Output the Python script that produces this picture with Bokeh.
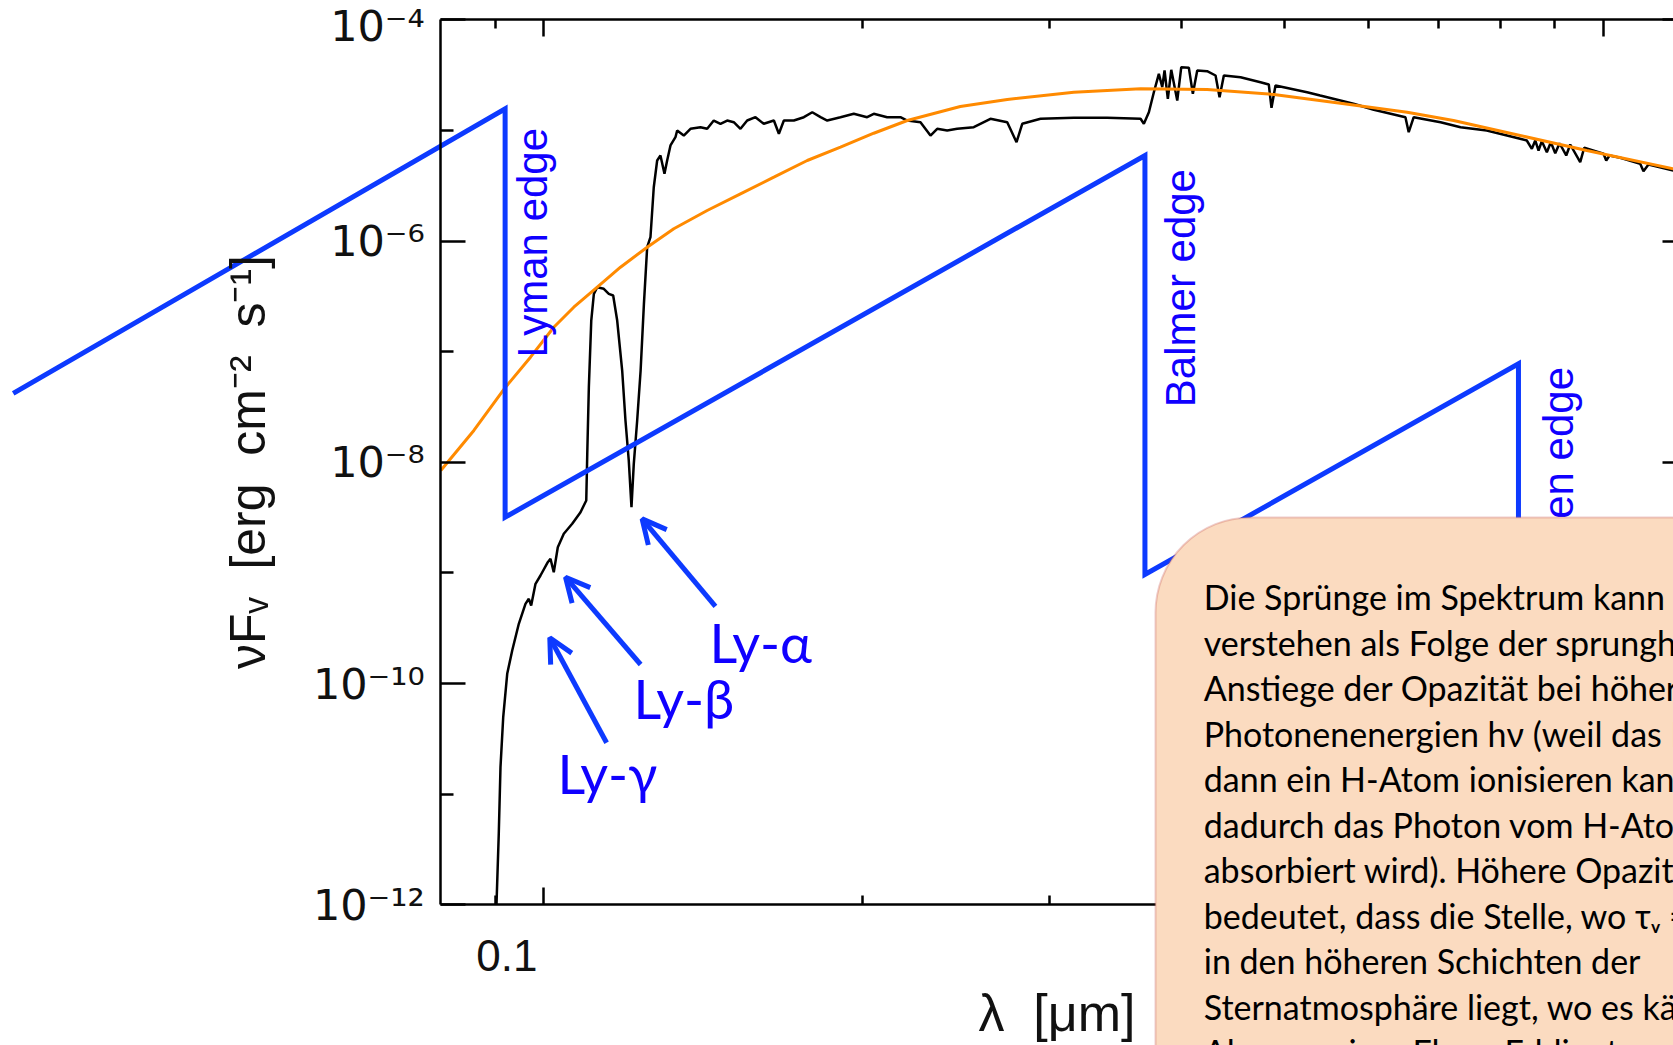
from bokeh.plotting import figure
from bokeh.models import (Range1d, FixedTicker, LogAxis, Label, Arrow, OpenHead,
                          BoxAnnotation)
from bokeh.embed import file_html
from bokeh.resources import INLINE

# ---------------- data ----------------
# model stellar spectrum (wavelength in micron, nu F_nu)
spec_wl = [
    0.09029, 0.09074, 0.09108, 0.09162, 0.09242, 0.09343, 0.09478, 0.09616, 0.09686,
    0.09736, 0.09828, 0.09935, 0.10094, 0.10153, 0.10226, 0.10316, 0.10451, 0.10644, 0.10838,
    0.10974, 0.10998, 0.11036, 0.11094, 0.11157, 0.11239, 0.11400, 0.11525, 0.11635, 0.11737,
    0.11865, 0.11950, 0.12036, 0.12107, 0.12168, 0.12258, 0.12350, 0.12439, 0.12527, 0.12617,
    0.12708, 0.12802, 0.12894, 0.13007, 0.13083, 0.13178, 0.13321,
    0.13371, 0.13564, 0.13763, 0.14065, 0.14272, 0.14478, 0.14690, 0.14906, 0.15121, 0.15343,
    0.15568, 0.15851, 0.16139, 0.16498, 0.16678, 0.16860, 0.17230, 0.17608, 0.17933, 0.18259,
    0.18527, 0.19067, 0.19626, 0.20205, 0.20497, 0.21103, 0.21721, 0.22046, 0.22687, 0.23185,
    0.23526, 0.24042, 0.24570, 0.25472, 0.26413, 0.27394, 0.27953, 0.28302, 0.29450, 0.31660,
    0.34040, 0.36600, 0.36864,
    0.37267, 0.37673, 0.38084, 0.38367, 0.38559, 0.38836, 0.39124, 0.39638, 0.39984, 0.40649,
    0.41005, 0.41398, 0.42295, 0.43078, 0.43454, 0.43862, 0.45481, 0.47497, 0.48361, 0.48647,
    0.49072, 0.52557, 0.54077, 0.56500, 0.58131, 0.60756, 0.65078, 0.65547, 0.66262, 0.70244,
    0.73362, 0.77658, 0.83499,
    0.84720, 0.85656, 0.86291, 0.86911, 0.87537, 0.88493, 0.89267, 0.90124, 0.90971, 0.92301,
    0.93104, 0.95148, 0.95976, 1.0009, 1.0068, 1.0140, 1.0379, 1.0840, 1.0917, 1.1036, 1.1653,
]
spec_flux = [
    1.0e-12, 4.39e-12, 1.756e-11, 4.97e-11, 1.227e-10, 1.991e-10, 3.47e-10, 5.26e-10, 5.84e-10,
    5.08e-10, 7.98e-10, 9.48e-10, 1.251e-9, 1.342e-9, 1.016e-9, 1.709e-9, 2.259e-9, 2.78e-9, 3.54e-9,
    4.52e-9, 1.193e-8, 4.77e-8, 1.912e-7, 3.33e-7, 3.82e-7, 3.70e-7, 3.33e-7, 3.22e-7, 1.912e-7,
    6.75e-8, 2.386e-8, 1.038e-8, 3.93e-9, 9.69e-9, 2.386e-8, 6.75e-8, 2.706e-7, 8.79e-7, 1.082e-6,
    3.06e-6, 5.34e-6, 5.93e-6, 4.05e-6, 5.34e-6, 7.30e-6, 8.67e-6,
    9.97e-6, 8.98e-6, 1.033e-5, 1.068e-5, 1.033e-5, 1.227e-5, 1.146e-5, 1.227e-5, 1.185e-5, 1.033e-5,
    1.227e-5, 1.315e-5, 1.146e-5, 1.227e-5, 9.31e-6, 1.227e-5, 1.227e-5, 1.315e-5, 1.459e-5, 1.315e-5,
    1.227e-5, 1.315e-5, 1.411e-5, 1.315e-5, 1.411e-5, 1.315e-5, 1.315e-5, 1.227e-5, 1.185e-5, 8.98e-6,
    1.033e-5, 9.97e-6, 1.033e-5, 1.068e-5, 1.272e-5, 1.185e-5, 7.81e-6, 1.146e-5, 1.272e-5, 1.298e-5,
    1.298e-5, 1.272e-5, 1.146e-5,
    1.459e-5, 2.212e-5, 3.244e-5, 2.455e-5, 3.475e-5, 1.928e-5, 3.526e-5, 1.862e-5, 3.72e-5, 3.675e-5,
    2.139e-5, 3.475e-5, 3.424e-5, 3.131e-5, 1.993e-5, 3.131e-5, 3.022e-5, 2.723e-5, 2.597e-5, 1.599e-5,
    2.543e-5, 2.212e-5, 2.065e-5, 1.862e-5, 1.737e-5, 1.533e-5, 1.315e-5, 9.62e-6, 1.315e-5, 1.185e-5,
    1.068e-5, 9.97e-6, 8.39e-6,
    8.10e-6, 6.81e-6, 8.10e-6, 6.57e-6, 7.98e-6, 6.35e-6, 7.81e-6, 6.22e-6, 7.65e-6, 5.93e-6,
    7.45e-6, 5.16e-6, 6.96e-6, 6.14e-6, 5.34e-6, 5.93e-6, 5.65e-6, 4.98e-6, 4.27e-6, 4.91e-6, 4.34e-6,
]

# black-body comparison curve
bb_wl = [0.08, 0.08596, 0.09208, 0.09721, 0.10226, 0.10680, 0.11239, 0.11821, 0.12527, 0.13273,
         0.14272, 0.15343, 0.16498, 0.17738, 0.19067, 0.20497, 0.22046, 0.24738, 0.27394, 0.31660,
         0.36600, 0.42295, 0.48894, 0.56500, 0.65320, 0.72249, 0.83499, 0.96520, 1.1653]
bb_flux = [8.43e-9, 1.939e-8, 4.77e-8, 8.91e-8, 1.663e-7, 2.522e-7, 3.823e-7, 5.80e-7, 8.79e-7, 1.289e-6,
           1.886e-6, 2.670e-6, 3.772e-6, 5.34e-6, 7.04e-6, 9.42e-6, 1.227e-5, 1.642e-5, 1.900e-5, 2.212e-5,
           2.374e-5, 2.340e-5, 2.109e-5, 1.759e-5, 1.459e-5, 1.227e-5, 8.99e-6, 6.57e-6, 4.49e-6]

# schematic absorption-edge sawtooth
edge_wl = [0.03159, 0.0920, 0.0920, 0.3695, 0.3695, 0.832, 0.832]
edge_flux = [4.19e-8, 1.566e-5, 3.19e-9, 5.93e-6, 9.68e-10, 7.77e-8, 1.0e-11]
edge_names = ["Lyman edge", "Balmer edge", "Paschen edge"]
edge_label_wl = [0.09764, 0.39923, 0.90756]
edge_label_flux = [8.85e-8, 3.15e-8, 2.72e-10]

# Lyman line annotations
ly_names = ["Ly-α", "Ly-β", "Ly-γ"]
ly_text_wl = [0.14344, 0.12161, 0.10309]
ly_text_flux = [2.373e-10, 7.351e-11, 1.544e-11]
arrow_tail_wl = [0.1453, 0.1235, 0.1147]
arrow_tail_flux = [4.98e-10, 1.488e-10, 2.92e-11]
arrow_head_wl = [0.1239, 0.1049, 0.10138]
arrow_head_flux = [3.08e-9, 9.15e-10, 2.596e-10]

# axes: plotted box and ticks
x_bounds = (0.08, 1.2)
y_bounds = (1e-12, 1e-4)
x_major = [0.1, 1.0]
x_minor = [0.09, 0.2, 0.3, 0.4, 0.5, 0.6, 0.7, 0.8, 0.9]
NB = "\u00a0"
x_labels = {0.1: "0.1" + NB * 6, 1.0: "1"}
y_major = [1e-12, 1e-10, 1e-8, 1e-6, 1e-4]
y_minor = [1e-11, 1e-9, 1e-7, 1e-5]
y_labels = {1e-12: "10⁻¹²", 1e-10: "10⁻¹⁰", 1e-8: "10⁻⁸", 1e-6: "10⁻⁶", 1e-4: "10⁻⁴"}

# text box
box_left_wl = 0.3781
box_top_flux = 3.17e-9
box_text_wl = 0.41985
box_text_flux = 6.07e-10
box_lines = [
    "Die Sprünge im Spektrum kann man",
    "verstehen als Folge der sprunghaften",
    "Anstiege der Opazität bei höheren",
    "Photonenenergien hν (weil das Photon",
    "dann ein H-Atom ionisieren kann und",
    "dadurch das Photon vom H-Atom",
    "absorbiert wird). Höhere Opazität",
    "bedeutet, dass die Stelle, wo τᵥ = 2/3",
    "in den höheren Schichten der",
    "Sternatmosphäre liegt, wo es kälter ist.",
    "Also: weniger Fluss. Eddington",
]

# ---------------- figure ----------------
BLUE_LINE = "#0D3AFF"
BLUE_TEXT = "#1000FF"
AX_FONT = "Liberation Sans"

p = figure(width=1673, height=1045, x_axis_type="log", y_axis_type="log",
           x_range=Range1d(0.03073, 1.1653), y_range=Range1d(5.361e-14, 1.4913e-4),
           output_backend="svg", toolbar_location=None,
           min_border_left=0, min_border_right=0, min_border_top=0, min_border_bottom=0)
p.outline_line_color = None
p.grid.visible = False
p.background_fill_color = "white"
p.border_fill_color = "white"

xa = p.xaxis[0]
ya = p.yaxis[0]
top = LogAxis()
p.add_layout(top, "above")
right = LogAxis()
p.add_layout(right, "right")

xa.fixed_location = y_bounds[0]
top.fixed_location = y_bounds[1]
ya.fixed_location = x_bounds[0]
right.fixed_location = x_bounds[1]

for ax in (xa, top):
    ax.bounds = x_bounds
    ax.ticker = FixedTicker(ticks=x_major, minor_ticks=x_minor)
    ax.major_tick_in = 17
    ax.major_tick_out = 0
    ax.minor_tick_in = 9
    ax.minor_tick_out = 0
for ax in (ya, right):
    ax.bounds = y_bounds
    ax.ticker = FixedTicker(ticks=y_major, minor_ticks=y_minor)
    ax.major_tick_in = 25
    ax.major_tick_out = 0
    ax.minor_tick_in = 13
    ax.minor_tick_out = 0

xa.major_label_overrides = x_labels
ya.major_label_overrides = y_labels
top.major_label_overrides = {0.1: "", 1.0: ""}
right.major_label_overrides = {v: "" for v in y_major}
for ax in (top, right):
    ax.major_label_text_font_size = "2px"
    ax.major_label_standoff = 0

for ax in (xa, ya, top, right):
    ax.axis_line_width = 2.5
    ax.axis_line_color = "black"
    ax.major_tick_line_width = 2.5
    ax.minor_tick_line_width = 2.5
    ax.major_tick_line_color = "black"
    ax.minor_tick_line_color = "black"
    ax.major_label_text_font = AX_FONT
    ax.major_label_text_color = "#111111"
    ax.axis_label_text_font = AX_FONT
    ax.axis_label_text_font_style = "normal"
    ax.axis_label_text_color = "#111111"

xa.major_label_text_font_size = "44px"
xa.major_label_standoff = 26
xa.axis_label = "λ" + NB + NB + "[μm]"
xa.axis_label_text_font_size = "52px"
xa.axis_label_standoff = 1

ya.major_label_text_font = "DejaVu Sans"
ya.major_label_text_font_size = "43px"
ya.major_label_standoff = 16
ya.axis_label = "νFᵥ" + NB + " [erg" + NB + " cm⁻²" + NB + " s⁻¹]"
ya.axis_label_text_font_size = "50px"
ya.axis_label_standoff = 34

# curves
p.line(spec_wl, spec_flux, line_color="black", line_width=2.5)
p.line(bb_wl, bb_flux, line_color="#FF8A00", line_width=3)
p.line(edge_wl, edge_flux, line_color=BLUE_LINE, line_width=5, line_join="miter")

# edge labels
for name, xw, yf in zip(edge_names, edge_label_wl, edge_label_flux):
    p.add_layout(Label(x=xw, y=yf, text=name, angle=90, angle_units="deg",
                       text_font=AX_FONT, text_font_size="42px", text_color=BLUE_TEXT,
                       text_align="left", text_baseline="alphabetic"))

# Lyman line arrows and labels
for name, tx, ty, ax0, ay0, ax1, ay1 in zip(ly_names, ly_text_wl, ly_text_flux,
                                            arrow_tail_wl, arrow_tail_flux,
                                            arrow_head_wl, arrow_head_flux):
    p.add_layout(Arrow(x_start=ax0, y_start=ay0, x_end=ax1, y_end=ay1,
                       line_color=BLUE_LINE, line_width=5,
                       end=OpenHead(size=24, line_width=5, line_color=BLUE_LINE)))
    p.add_layout(Label(x=tx, y=ty, text=name, text_font="Lato", text_font_size="54px",
                       text_color=BLUE_TEXT, text_align="left", text_baseline="alphabetic"))

# text box
p.add_layout(BoxAnnotation(left=box_left_wl, right=3.0, top=box_top_flux, bottom=1e-15,
                           fill_color="#FBDBC0", fill_alpha=1.0,
                           line_color="#C85A55", line_width=2, border_radius=95))
for i, line in enumerate(box_lines):
    p.add_layout(Label(x=box_text_wl, y=box_text_flux, y_offset=-45.5 * i, text=line,
                       text_font="Lato", text_font_size="34px", text_color="black",
                       text_align="left", text_baseline="alphabetic"))

open("out.html", "w").write(file_html(p, INLINE))
